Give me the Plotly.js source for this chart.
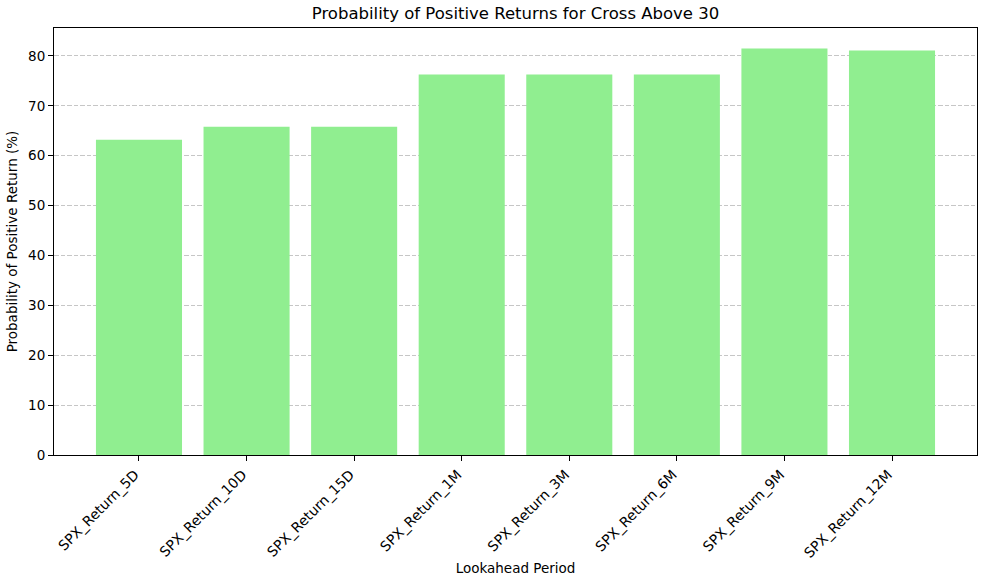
<!DOCTYPE html>
<html><head><meta charset="utf-8">
<script src="https://cdn.plot.ly/plotly-3.0.1.min.js"></script>
<style>html,body{margin:0;padding:0;background:#fff}#c{width:982px;height:580px}</style>
</head><body><div id="c"></div>
<script>
const categories = ["SPX_Return_5D","SPX_Return_10D","SPX_Return_15D","SPX_Return_1M","SPX_Return_3M","SPX_Return_6M","SPX_Return_9M","SPX_Return_12M"];
const probabilities = [63.2, 65.8, 65.8, 76.3, 76.3, 76.3, 81.5, 81.1];
const yTicks = [0,10,20,30,40,50,60,70,80];

const font = {family: "DejaVu Sans, sans-serif", size: 13.5, color: "#000"};
const xTickFont = {family: "DejaVu Sans, sans-serif", size: 14, color: "#000"};
Plotly.newPlot("c", [{
  type: "bar",
  x: categories.map((_, i) => i),
  y: probabilities,
  marker: {color: "#90ee90", line: {width: 0}},
  width: 0.8,
  hoverinfo: "none"
}], {
  width: 982, height: 580,
  margin: {l: 54, r: 5, t: 28, b: 125},
  paper_bgcolor: "#fff", plot_bgcolor: "#fff",
  font: font,
  showlegend: false,
  title: {text: "Probability of Positive Returns for Cross Above 30", font: {family: font.family, size: 16.5, color: "#000"}, xref: "paper", x: 0.5, xanchor: "center", y: 0.977, yanchor: "middle"},
  xaxis: {
    range: [-0.79, 7.79],
    tickvals: categories.map((_, i) => i),
    ticktext: categories,
    tickangle: -45,
    ticklabelshift: -4,
    ticks: "outside", ticklen: 5, tickcolor: "#000", tickwidth: 1,
    showline: true, linecolor: "#000", linewidth: 1, mirror: true,
    showgrid: false, zeroline: false,
    tickfont: xTickFont,
    title: {text: "Lookahead Period", font: font, standoff: 3}
  },
  yaxis: {
    range: [0, 85.6],
    tickvals: yTicks,
    ticks: "outside", ticklen: 5, tickcolor: "#000", tickwidth: 1,
    showline: true, linecolor: "#000", linewidth: 1, mirror: true,
    showgrid: true, gridcolor: "#c6c6c6", griddash: "4.5px,2px", gridwidth: 1,
    zeroline: false,
    tickfont: font,
    title: {text: "Probability of Positive Return (%)", font: font, standoff: 7}
  }
}, {staticPlot: true});
</script></body></html>
